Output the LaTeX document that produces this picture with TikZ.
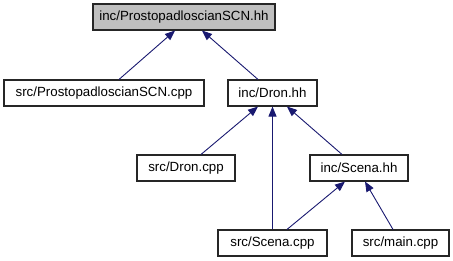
\documentclass[tikz,border=0pt]{standalone}
\usepackage{fontspec}
\setmainfont{Liberation Sans}
\usetikzlibrary{arrows.meta,calc}

\definecolor{edgeblue}{HTML}{191970}
\definecolor{rootgray}{HTML}{BFBFBF}

\tikzset{
  file/.style={draw=black!85, line width=1.1pt, fill=white, inner sep=0pt,
    minimum height=26pt, font=\fontsize{13.3}{16}\selectfont},
  rootfile/.style={file, fill=rootgray},
  incl/.style={draw=edgeblue, line width=0.9pt,
    -{Triangle[length=10pt,width=8pt,fill=edgeblue]}},
}

\begin{document}
\begin{tikzpicture}[x=1pt, y=-1pt]
  \useasboundingbox (0,0) rectangle (453,261);

  % files
  \node[rootfile, minimum width=182pt] (root)   at (184,17)    {inc/ProstopadloscianSCN.hh};
  \node[file, minimum width=200pt]     (pcpp)   at (104,93)    {src/ProstopadloscianSCN.cpp};
  \node[file, minimum width=89pt]      (dronh)  at (272.5,93)  {inc/Dron.hh};
  \node[file, minimum width=98pt]      (droncpp) at (186,168)  {src/Dron.cpp};
  \node[file, minimum width=98pt]      (scenah) at (359,168)   {inc/Scena.hh};
  \node[file, minimum width=109pt]     (scenacpp) at (272.5,243) {src/Scena.cpp};
  \node[file, minimum width=97pt]      (maincpp) at (400.5,243) {src/main.cpp};

  % include relations
  \draw[incl] ($(pcpp.north)+(15,0)$)     -- ($(root.south)+(-9,0)$);
  \draw[incl] ($(dronh.north)+(-14.5,0)$) -- ($(root.south)+(18,0)$);
  \draw[incl] ($(droncpp.north)+(15,0)$)  -- ($(dronh.south)+(-14.5,0)$);
  \draw[incl] (scenacpp.north)            -- (dronh.south);
  \draw[incl] ($(scenah.north)+(-17,0)$)  -- ($(dronh.south)+(14.5,0)$);
  \draw[incl] ($(scenacpp.north)+(14.5,0)$) -- ($(scenah.south)+(-14,0)$);
  \draw[incl] ($(maincpp.north)+(-7.5,0)$) -- ($(scenah.south)+(6,0)$);
\end{tikzpicture}
\end{document}
